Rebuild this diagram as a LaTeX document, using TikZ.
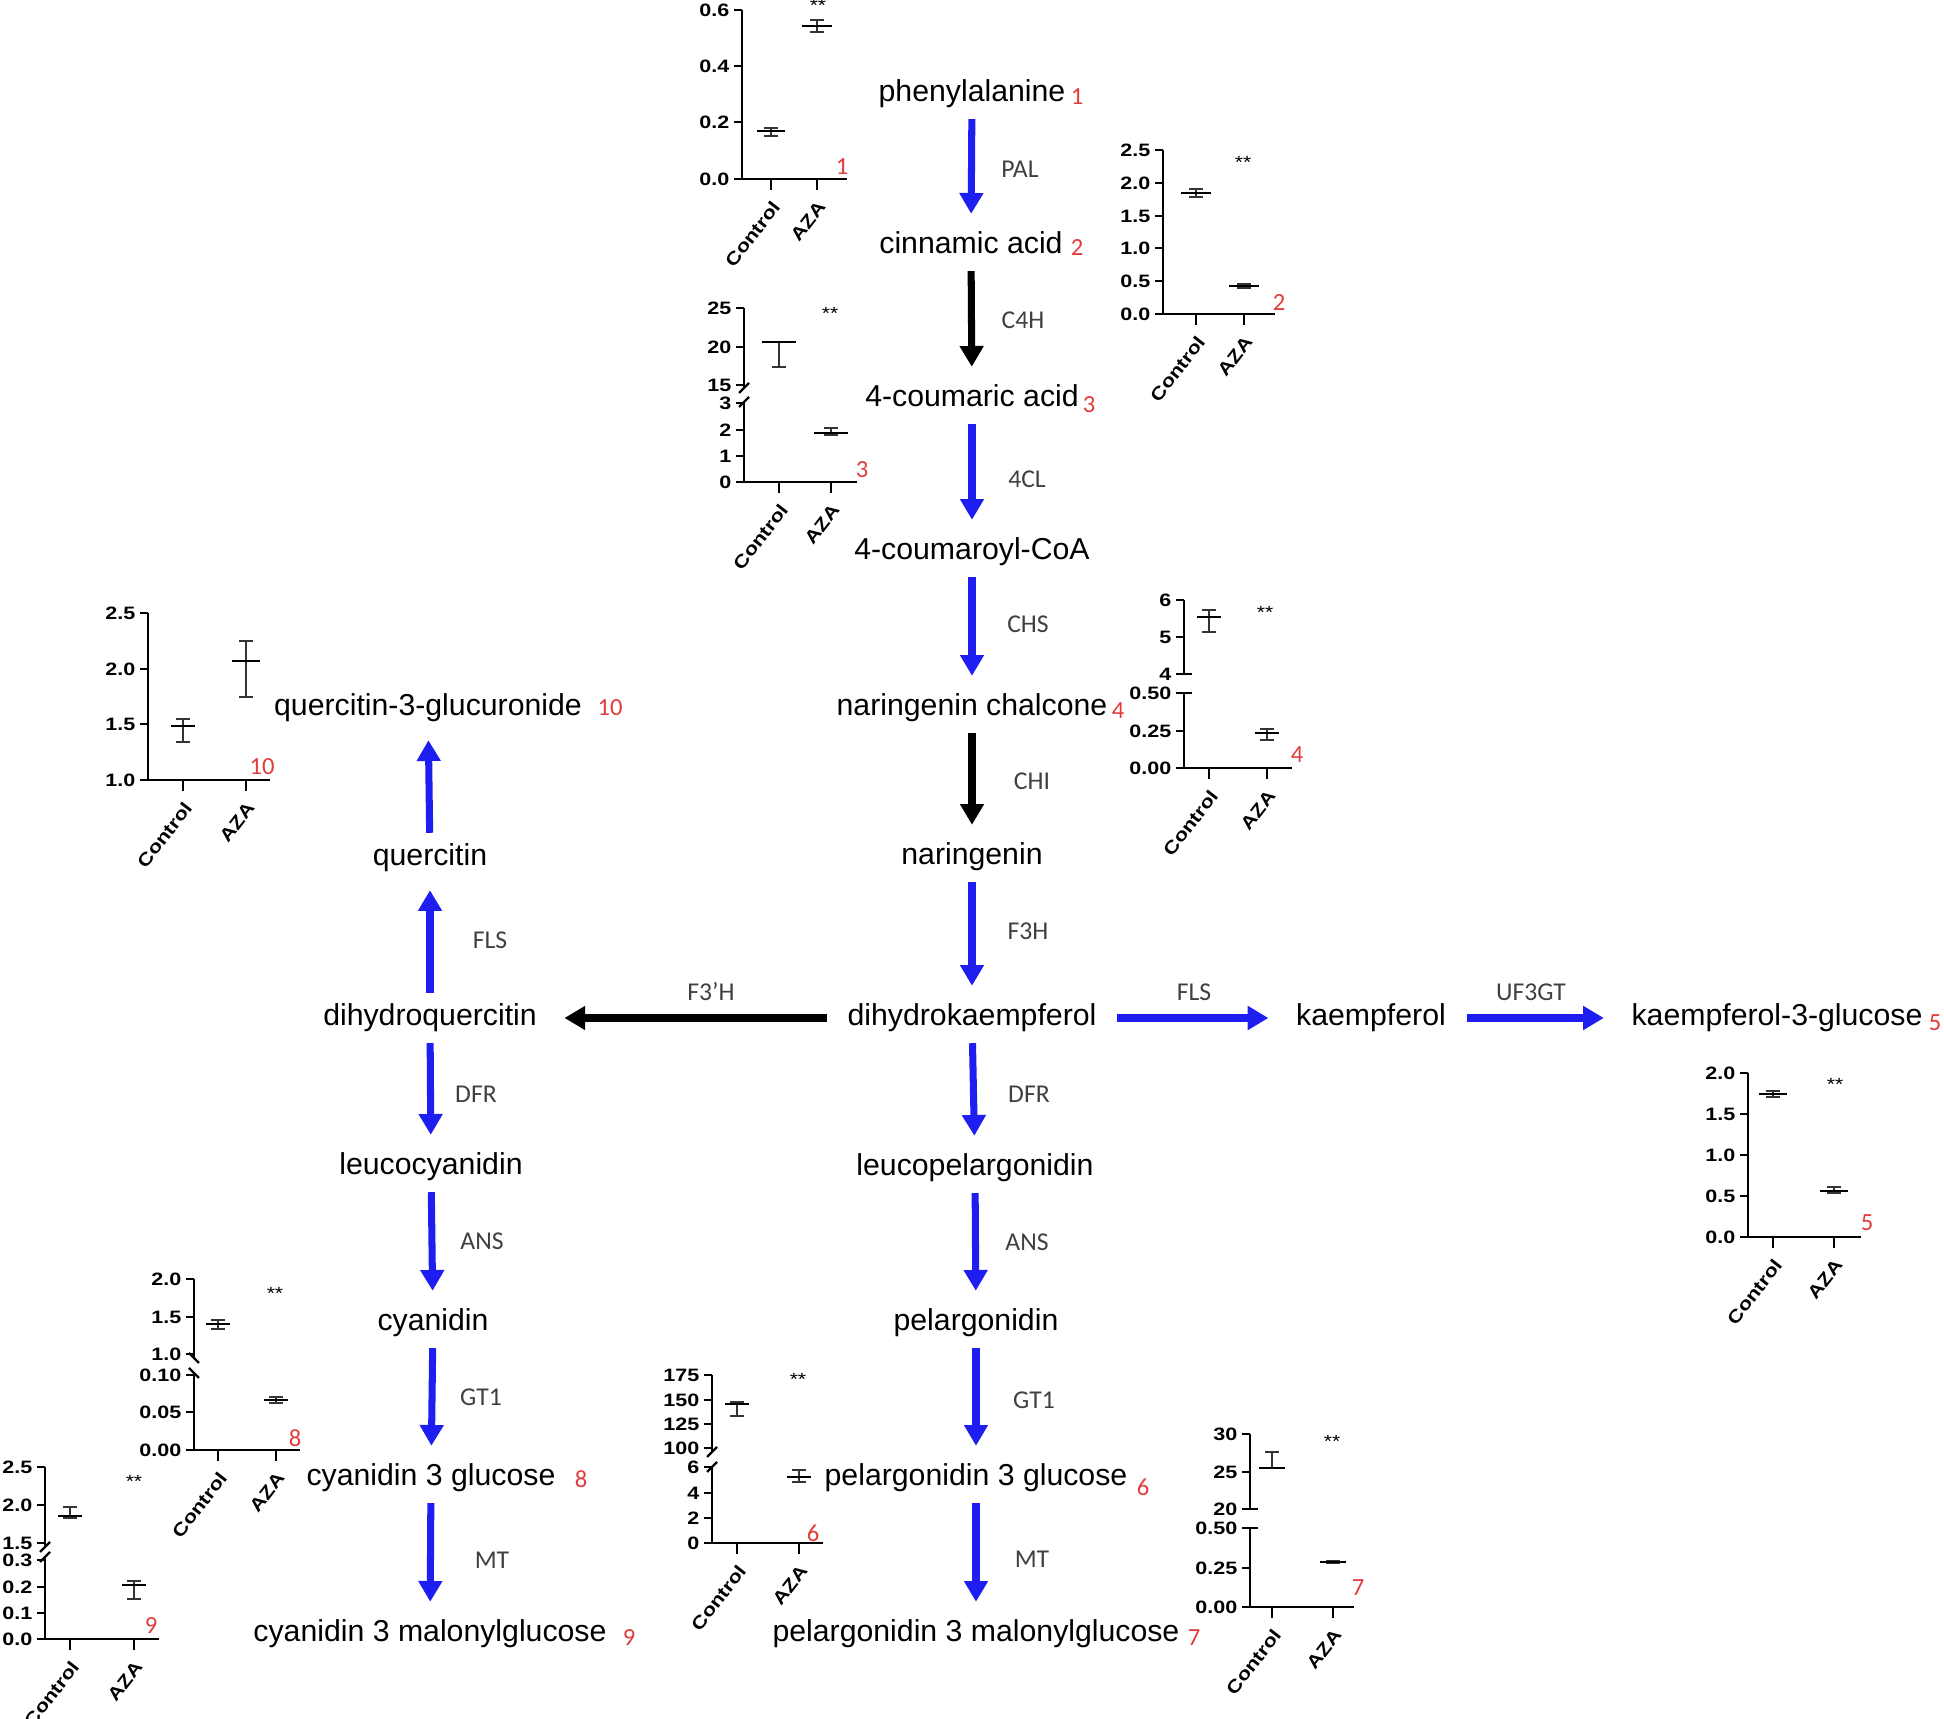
\documentclass[tikz,border=0pt]{standalone}
\usepackage{fontspec}
\setmainfont{Liberation Sans}
\newfontfamily\enzfont{Carlito}
\newfontfamily\chartfont[FakeStretch=1.2]{Liberation Sans}
\usetikzlibrary{arrows.meta}
\definecolor{pathblue}{HTML}{1E1EF0}
\definecolor{numred}{HTML}{E23B3B}
\definecolor{enzgray}{HTML}{404040}

% mean line with error bar: x, mean, low, high, half width of mean line
\newcommand{\errbar}[5]{%
  \draw[errline] (#1,#3) -- (#1,#4) (#1-7,#3) -- (#1+7,#3) (#1-7,#4) -- (#1+7,#4);
  \draw[meanline] (#1-#5,#2) -- (#1+#5,#2);}

\begin{document}
\begin{tikzpicture}[x=0.01cm, y=-0.01cm,
  met/.style={font=\fontsize{8.6}{10}\selectfont, inner xsep=0.2cm, inner ysep=0.1cm,
              text height=0.22cm, text depth=0.07cm},
  enz/.style={font=\enzfont\fontsize{7.3}{8}\selectfont, text=enzgray, inner sep=0pt},
  num/.style={font=\enzfont\fontsize{7}{8}\selectfont, text=numred, inner sep=0pt},
  conv/.style={line width=2pt, draw=pathblue, -{Triangle[length=5.9pt,width=6.5pt]},
               shorten >=0.07cm},
  convk/.style={conv, draw=black},
  chartaxis/.style={line width=0.7pt},
  ticklab/.style={font=\chartfont\bfseries\fontsize{5.1}{5.5}\selectfont, anchor=east, inner sep=1pt},
  grouplab/.style={ticklab, anchor=north east, rotate=52},
  errline/.style={line width=0.45pt, black!80},
  meanline/.style={line width=0.8pt},
  stars/.style={font=\chartfont\fontsize{5}{5}\selectfont, inner sep=0pt}
]
\useasboundingbox (0,0) rectangle (1944,1719);

% main column
\node[met] (phe) at (972,94)   {phenylalanine};
\node[met] (cin) at (971,246)  {cinnamic acid};
\node[met] (cou) at (972,399)  {4-coumaric acid};
\node[met] (coa) at (972,552)  {4-coumaroyl-CoA};
\node[met] (nch) at (972,708)  {naringenin chalcone};
\node[met] (nar) at (972,857)  {naringenin};
\node[met] (dhk) at (972,1018) {dihydrokaempferol};
\node[met] (lpg) at (975,1168) {leucopelargonidin};
\node[met] (pel) at (976,1323) {pelargonidin};
\node[met] (pg3) at (976,1478) {pelargonidin 3 glucose};
\node[met] (pgm) at (976,1634) {pelargonidin 3 malonylglucose};

% left column
\node[met] (q3g) at (428,708)  {quercitin-3-glucuronide};
\node[met] (que) at (430,858)  {quercitin};
\node[met] (dhq) at (430,1018) {dihydroquercitin};
\node[met] (lcy) at (431,1167) {leucocyanidin};
\node[met] (cya) at (433,1323) {cyanidin};
\node[met] (cy3) at (431,1478) {cyanidin 3 glucose};
\node[met] (cym) at (430,1634) {cyanidin 3 malonylglucose};

% right branch
\node[met] (kae) at (1371,1018) {kaempferol};
\node[met] (k3g) at (1777,1018) {kaempferol-3-glucose};

% numbers of the measured compounds
\node[num] (n1)  at (1077,97)   {1};
\node[num] (n2)  at (1077,248)  {2};
\node[num] (n3)  at (1089,405)  {3};
\node[num] (n4)  at (1118,711)  {4};
\node[num] (n5)  at (1935,1023) {5};
\node[num] (n6)  at (1143,1487) {6};
\node[num] (n7)  at (1194,1638) {7};
\node[num] (n8)  at (581,1479)  {8};
\node[num] (n9)  at (629,1638)  {9};
\node[num] (n10) at (610,708)   {10};

% reactions
\draw[conv]  (phe) -- (cin);
\draw[convk] (cin) -- (cou);
\draw[conv]  (cou) -- (coa);
\draw[conv]  (coa) -- (nch);
\draw[convk] (nch) -- (nar);
\draw[conv]  (nar) -- (dhk);
\draw[conv]  (dhk) -- (lpg);
\draw[conv]  (lpg) -- (pel);
\draw[conv]  (pel) -- (pg3);
\draw[conv]  (pg3) -- (pgm);
\draw[convk] (dhk) -- (dhq);
\draw[conv]  (dhq) -- (que);
\draw[conv]  (que) -- (q3g);
\draw[conv]  (dhq) -- (lcy);
\draw[conv]  (lcy) -- (cya);
\draw[conv]  (cya) -- (cy3);
\draw[conv]  (cy3) -- (cym);
\draw[conv]  (dhk) -- (kae);
\draw[conv]  (kae) -- (k3g);

% enzymes
\node[enz] (pal)  at (1020,169)  {PAL};
\node[enz] (c4h)  at (1023,320)  {C4H};
\node[enz] (fcl)  at (1027,479)  {4CL};
\node[enz] (chs)  at (1028,624)  {CHS};
\node[enz] (chi)  at (1032,781)  {CHI};
\node[enz] (f3h)  at (1028,931)  {F3H};
\node[enz] (dfrr) at (1029,1094) {DFR};
\node[enz] (ansr) at (1027,1242) {ANS};
\node[enz] (gtr)  at (1034,1400) {GT1};
\node[enz] (mtr)  at (1032,1559) {MT};
\node[enz] (flsl) at (490,940)   {FLS};
\node[enz] (dfrl) at (476,1094)  {DFR};
\node[enz] (ansl) at (482,1241)  {ANS};
\node[enz] (gtl)  at (481,1397)  {GT1};
\node[enz] (mtl)  at (492,1560)  {MT};
\node[enz] (fph)  at (711,992)   {F3’H};
\node[enz] (flsr) at (1194,992)  {FLS};
\node[enz] (ugt)  at (1531,992)  {UF3GT};

% chart 1
\draw[chartaxis] (742,10) -- (742,179) -- (847,179);
\foreach \v/\y in {0.0/179, 0.2/122, 0.4/66, 0.6/10}
  \draw[chartaxis] (742,\y) -- ++(-8,0) node[ticklab] {\v};
\foreach \x/\g in {771/Control, 817/AZA} {
  \draw[chartaxis] (\x,179) -- ++(0,11);
  \node[grouplab] at (\x-1,194) {\g};
}
\errbar{771}{131}{136}{128}{14}
\errbar{817}{26}{32}{20}{15}
\node[stars] at (818,5) {**};
\node[num] (c1) at (842,167) {1};

% chart 2
\draw[chartaxis] (1163,150) -- (1163,314) -- (1275,314);
\foreach \v/\y in {0.0/314, 0.5/281, 1.0/248, 1.5/216, 2.0/183, 2.5/150}
  \draw[chartaxis] (1163,\y) -- ++(-8,0) node[ticklab] {\v};
\foreach \x/\g in {1196/Control, 1244/AZA} {
  \draw[chartaxis] (\x,314) -- ++(0,11);
  \node[grouplab] at (\x-1,329) {\g};
}
\errbar{1196}{193}{197}{189}{15}
\errbar{1244}{286}{288}{284}{15}
\node[stars] at (1243,162) {**};
\node[num] (c2) at (1279,303) {2};

% chart 3
\draw[chartaxis] (744,308) -- (744,388);
\draw[chartaxis] (744,402) -- (744,482) -- (857,482);
\draw[chartaxis] (739,393) -- (749,383) (739,407) -- (749,397);
\foreach \v/\y in {25/308, 20/347, 15/385, 3/403, 2/430, 1/456, 0/482}
  \draw[chartaxis] (744,\y) -- ++(-8,0) node[ticklab] {\v};
\foreach \x/\g in {779/Control, 831/AZA} {
  \draw[chartaxis] (\x,482) -- ++(0,11);
  \node[grouplab] at (\x-1,497) {\g};
}
\errbar{779}{342}{367}{342}{17}
\errbar{831}{433}{435}{428}{17}
\node[stars] at (830,313) {**};
\node[num] (c3) at (862,470) {3};

% chart 4
\draw[chartaxis] (1184,600) -- (1184,674) (1176,674) -- (1192,674);
\draw[chartaxis] (1176,693) -- (1192,693) (1184,693) -- (1184,768) -- (1292,768);
\foreach \v/\y in {6/600, 5/637, 4/674, 0.50/693, 0.25/731, 0.00/768}
  \draw[chartaxis] (1184,\y) -- ++(-8,0) node[ticklab] {\v};
\foreach \x/\g in {1209/Control, 1267/AZA} {
  \draw[chartaxis] (\x,768) -- ++(0,11);
  \node[grouplab] at (\x-1,783) {\g};
}
\errbar{1209}{617}{632}{610}{12}
\errbar{1267}{733}{740}{729}{12}
\node[stars] at (1265,612) {**};
\node[num] (c4) at (1297,755) {4};

% chart 5
\draw[chartaxis] (1748,1073) -- (1748,1237) -- (1861,1237);
\foreach \v/\y in {0.0/1237, 0.5/1196, 1.0/1155, 1.5/1114, 2.0/1073}
  \draw[chartaxis] (1748,\y) -- ++(-8,0) node[ticklab] {\v};
\foreach \x/\g in {1773/Control, 1834/AZA} {
  \draw[chartaxis] (\x,1237) -- ++(0,11);
  \node[grouplab] at (\x-1,1252) {\g};
}
\errbar{1773}{1094}{1097}{1091}{14}
\errbar{1834}{1191}{1193}{1187}{14}
\node[stars] at (1835,1084) {**};
\node[num] (c5) at (1867,1223) {5};

% chart 10
\draw[chartaxis] (148,613) -- (148,780) -- (270,780);
\foreach \v/\y in {1.0/780, 1.5/724, 2.0/669, 2.5/613}
  \draw[chartaxis] (148,\y) -- ++(-8,0) node[ticklab] {\v};
\foreach \x/\g in {183/Control, 246/AZA} {
  \draw[chartaxis] (\x,780) -- ++(0,11);
  \node[grouplab] at (\x-1,795) {\g};
}
\errbar{183}{726}{742}{719}{12}
\errbar{246}{661}{697}{641}{14}
\node[num] (c10) at (262,767) {10};

% chart 8
\draw[chartaxis] (194,1279) -- (194,1358);
\draw[chartaxis] (194,1373) -- (194,1450) -- (300,1450);
\draw[chartaxis] (189,1353) -- (199,1363) (189,1368) -- (199,1378);
\foreach \v/\y in {2.0/1279, 1.5/1317, 1.0/1354, 0.10/1375, 0.05/1412, 0.00/1450}
  \draw[chartaxis] (194,\y) -- ++(-8,0) node[ticklab] {\v};
\foreach \x/\g in {218/Control, 276/AZA} {
  \draw[chartaxis] (\x,1450) -- ++(0,11);
  \node[grouplab] at (\x-1,1465) {\g};
}
\errbar{218}{1324}{1329}{1320}{12}
\errbar{276}{1400}{1403}{1397}{12}
\node[stars] at (275,1293) {**};
\node[num] (c8) at (295,1438) {8};

% chart 9
\draw[chartaxis] (45,1467) -- (45,1547);
\draw[chartaxis] (45,1557) -- (45,1639) -- (159,1639);
\draw[chartaxis] (40,1552) -- (50,1542) (40,1562) -- (50,1552);
\foreach \v/\y in {2.5/1467, 2.0/1505, 1.5/1543, 0.3/1560, 0.2/1587, 0.1/1613, 0.0/1639}
  \draw[chartaxis] (45,\y) -- ++(-8,0) node[ticklab] {\v};
\foreach \x/\g in {70/Control, 134/AZA} {
  \draw[chartaxis] (\x,1639) -- ++(0,11);
  \node[grouplab] at (\x-1,1654) {\g};
}
\errbar{70}{1516}{1518}{1507}{12}
\errbar{134}{1585}{1599}{1581}{12}
\node[stars] at (134,1481) {**};
\node[num] (c9) at (151,1626) {9};

% chart 6
\draw[chartaxis] (712,1375) -- (712,1452);
\draw[chartaxis] (712,1467) -- (712,1543) -- (823,1543);
\draw[chartaxis] (707,1457) -- (717,1447) (707,1472) -- (717,1462);
\foreach \v/\y in {175/1375, 150/1400, 125/1424, 100/1448, 6/1467, 4/1493, 2/1518, 0/1543}
  \draw[chartaxis] (712,\y) -- ++(-8,0) node[ticklab] {\v};
\foreach \x/\g in {737/Control, 799/AZA} {
  \draw[chartaxis] (\x,1543) -- ++(0,11);
  \node[grouplab] at (\x-1,1558) {\g};
}
\errbar{737}{1404}{1416}{1402}{12}
\errbar{799}{1477}{1482}{1470}{12}
\node[stars] at (798,1379) {**};
\node[num] (c6) at (813,1533) {6};

% chart 7
\draw[chartaxis] (1250,1434) -- (1250,1509) (1242,1509) -- (1258,1509);
\draw[chartaxis] (1242,1528) -- (1258,1528) (1250,1528) -- (1250,1607) -- (1354,1607);
\foreach \v/\y in {30/1434, 25/1472, 20/1509, 0.50/1528, 0.25/1568, 0.00/1607}
  \draw[chartaxis] (1250,\y) -- ++(-8,0) node[ticklab] {\v};
\foreach \x/\g in {1272/Control, 1333/AZA} {
  \draw[chartaxis] (\x,1607) -- ++(0,11);
  \node[grouplab] at (\x-1,1622) {\g};
}
\errbar{1272}{1468}{1468}{1452}{13}
\errbar{1333}{1562}{1563}{1561}{13}
\node[stars] at (1332,1441) {**};
\node[num] (c7) at (1358,1588) {7};
\end{tikzpicture}
\end{document}
